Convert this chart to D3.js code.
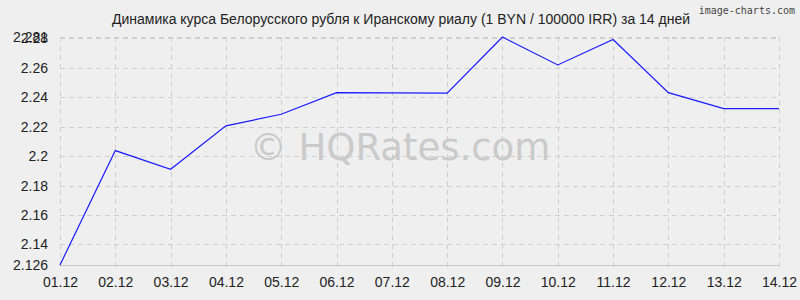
<!DOCTYPE html>
<html>
<head>
<meta charset="utf-8">
<script src="https://cdn.jsdelivr.net/npm/d3@7"></script>
<style>
  body { margin: 0; background: #efefef; }
  svg { display: block; font-family: 'Liberation Sans', Arial, sans-serif; }
</style>
</head>
<body>
<svg id="chart"></svg>
<script>
// data
const dates = ['01.12', '02.12', '03.12', '04.12', '05.12', '06.12', '07.12',
  '08.12', '09.12', '10.12', '11.12', '12.12', '13.12', '14.12'];
const rates = [2.126, 2.2038, 2.1911, 2.2206, 2.2285, 2.2432, 2.243,
  2.2428, 2.281, 2.262, 2.2793, 2.2432, 2.2323, 2.2323];
const yTicks = [2.126, 2.14, 2.16, 2.18, 2.2, 2.22, 2.24, 2.26, 2.28, 2.281];
const title = 'Динамика курса Белорусского рубля к Иранскому риалу (1 BYN / 100000 IRR) за 14 дней';

const WIDTH = 800;
const HEIGHT = 300;
const MARGINS = { top: 37, right: 21, bottom: 35, left: 60 };
const FONT = "'Liberation Sans', Arial, sans-serif";

const svg = d3.select('#chart').attr('width', WIDTH).attr('height', HEIGHT);

svg.append('rect')
  .attr('width', WIDTH)
  .attr('height', HEIGHT)
  .attr('fill', '#efefef');

const x = d3.scalePoint()
  .domain(dates)
  .range([MARGINS.left, WIDTH - MARGINS.right]);

const y = d3.scaleLinear()
  .domain([d3.min(rates), d3.max(rates)])
  .range([HEIGHT - MARGINS.bottom, MARGINS.top]);

// grid
const grid = svg.append('g');

grid.selectAll('.hgrid')
  .data(yTicks.filter((t) => t !== yTicks[0]))
  .enter()
  .append('line')
  .attr('x1', MARGINS.left)
  .attr('x2', WIDTH - MARGINS.right)
  .attr('y1', (d) => Math.round(y(d)) + 0.5)
  .attr('y2', (d) => Math.round(y(d)) + 0.5)
  .attr('stroke', '#cfcfcf')
  .attr('stroke-dasharray', '5,4');

grid.selectAll('.vgrid')
  .data(dates)
  .enter()
  .append('line')
  .attr('x1', (d) => Math.round(x(d)) + 0.5)
  .attr('x2', (d) => Math.round(x(d)) + 0.5)
  .attr('y1', MARGINS.top)
  .attr('y2', HEIGHT - MARGINS.bottom + 5)
  .attr('stroke', '#cfcfcf')
  .attr('stroke-dasharray', '5,4');

// bottom line
grid.append('line')
  .attr('x1', MARGINS.left)
  .attr('x2', WIDTH - MARGINS.right)
  .attr('y1', Math.round(y(yTicks[0])) + 0.5)
  .attr('y2', Math.round(y(yTicks[0])) + 0.5)
  .attr('stroke', '#c8c8c8');

// axes
const yAxis = svg.append('g')
  .attr('transform', `translate(${MARGINS.left - 12}, 0)`)
  .call(d3.axisLeft(y).tickValues(yTicks).tickFormat((d) => String(d)).tickSize(0).tickPadding(0))
  .attr('font-family', FONT);
yAxis.select('.domain').remove();
yAxis.selectAll('text')
  .style('font-size', '14px')
  .attr('fill', '#222');

const xAxis = svg.append('g')
  .attr('transform', `translate(0, ${HEIGHT - MARGINS.bottom + 12})`)
  .call(d3.axisBottom(x).tickSize(0).tickPadding(0))
  .attr('font-family', FONT);
xAxis.select('.domain').remove();
xAxis.selectAll('text')
  .style('font-size', '14px')
  .attr('fill', '#222');

// watermark
svg.append('text')
  .text('© HQRates.com')
  .attr('x', 400)
  .attr('y', 160)
  .attr('text-anchor', 'middle')
  .attr('fill', '#cacaca')
  .style('font-family', "'DejaVu Sans', sans-serif")
  .style('font-size', '37px');

// line
const line = d3.line()
  .x((d, i) => x(dates[i]))
  .y((d) => y(d));

svg.append('path')
  .datum(rates)
  .attr('d', line)
  .attr('fill', 'none')
  .attr('stroke', '#1a1aff')
  .attr('stroke-width', 1.2);

// title
svg.append('text')
  .text(title)
  .attr('x', 401)
  .attr('y', 24)
  .attr('text-anchor', 'middle')
  .attr('fill', '#222')
  .style('font-size', '14px');

svg.append('text')
  .text('image-charts.com')
  .attr('x', 795)
  .attr('y', 14)
  .attr('text-anchor', 'end')
  .attr('fill', '#444')
  .style('font-family', "'DejaVu Sans Mono', monospace")
  .style('font-size', '10px');
</script>
</body>
</html>
